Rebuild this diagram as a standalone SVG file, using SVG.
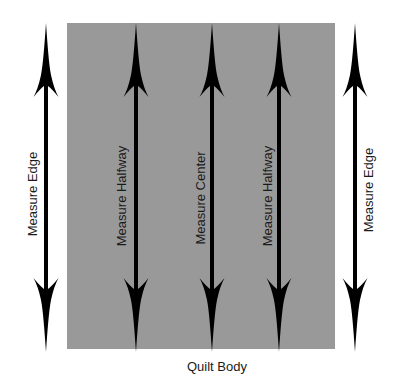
<svg xmlns="http://www.w3.org/2000/svg" xmlns:xlink="http://www.w3.org/1999/xlink" width="400" height="382" viewBox="0 0 400 382">
<style>
.lbl{font-family:"Liberation Sans",Arial,sans-serif;font-size:13px;fill:#1a1a1a;text-anchor:middle}
.shaft{stroke:#000;stroke-width:4}
</style>
<defs>
<path id="headUp" d="M0,0 C1.5,22 3,42 5,52 Q8,66 12.5,74 Q6,66 2,63 L-2,63 Q-6,66 -12.5,74 Q-8,66 -5,52 C-3,42 -1.5,22 0,0 Z" fill="#000"/>
<g id="dbl">
<use xlink:href="#headUp" transform="translate(0,23)"/>
<use xlink:href="#headUp" transform="translate(0,352) scale(1,-1)"/>
<line class="shaft" x1="0" y1="80" x2="0" y2="295"/>
</g>
</defs>
<rect width="400" height="382" fill="#fff"/>
<g id="quilt">
<rect x="67" y="23" width="268" height="326" fill="#999999"/>
<text class="lbl" x="217" y="371">Quilt Body</text>
</g>
<g id="connectors">
<use xlink:href="#dbl" transform="translate(46,0)"/>
<use xlink:href="#dbl" transform="translate(136,0)"/>
<use xlink:href="#dbl" transform="translate(212,0)"/>
<use xlink:href="#dbl" transform="translate(279,0)"/>
<use xlink:href="#dbl" transform="translate(355,0)"/>
</g>
<g id="labels">
<text class="lbl" transform="translate(37,194) rotate(-90)">Measure Edge</text>
<text class="lbl" transform="translate(126,196) rotate(-90)">Measure Halfway</text>
<text class="lbl" transform="translate(205,198) rotate(-90)">Measure Center</text>
<text class="lbl" transform="translate(272,196) rotate(-90)">Measure Halfway</text>
<text class="lbl" transform="translate(373,190) rotate(-90)">Measure Edge</text>
</g>
</svg>
